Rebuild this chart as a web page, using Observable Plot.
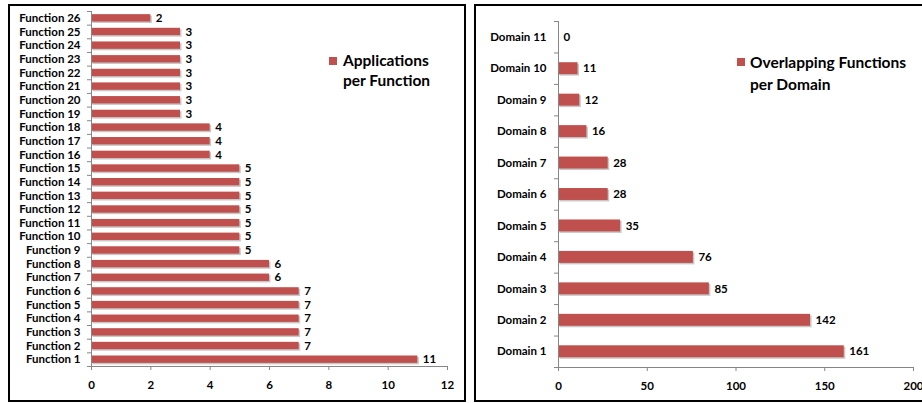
<!DOCTYPE html>
<html>
<head>
<meta charset="utf-8">
<script src="https://cdn.jsdelivr.net/npm/d3@7"></script>
<script src="https://cdn.jsdelivr.net/npm/@observablehq/plot@0.6"></script>
<style>
  html, body { margin: 0; padding: 0; background: #fff; }
  body { width: 922px; height: 403px; position: relative; overflow: hidden; font-family: Lato, "Open Sans", sans-serif; }
  .panel { position: absolute; border: 2px solid #000; box-sizing: border-box; }
  .chart { position: absolute; top: 0; }
  .legend { position: absolute; font-weight: bold; font-size: 15.5px; line-height: 20px; color: #000; }
  .legend .sw { position: absolute; width: 8px; height: 8px; background: #C0504D; }
</style>
</head>
<body>
<div class="panel" style="left:8px; top:4px; width:458px; height:398px;"></div>
<div class="panel" style="left:474px; top:4px; width:470px; height:398px;"></div>
<div id="left" class="chart" style="left:0px;"></div>
<div id="right" class="chart" style="left:470px;"></div>
<div class="legend" style="left:343px; top:50px;"><span class="sw" style="left:-14px; top:7px;"></span>Applications<br>per Function</div>
<div class="legend" style="left:750px; top:51px; line-height:22px;"><span class="sw" style="left:-13px; top:7px;"></span>Overlapping Functions<br>per Domain</div>
<script>
const functionNames = ["Function 1","Function 2","Function 3","Function 4","Function 5","Function 6","Function 7","Function 8","Function 9","Function 10","Function 11","Function 12","Function 13","Function 14","Function 15","Function 16","Function 17","Function 18","Function 19","Function 20","Function 21","Function 22","Function 23","Function 24","Function 25","Function 26"];
const functionValues = [11,7,7,7,7,7,6,6,5,5,5,5,5,5,5,4,4,4,3,3,3,3,3,3,3,2];
const functionTicks = [0,2,4,6,8,10,12];

const domainNames = ["Domain 1","Domain 2","Domain 3","Domain 4","Domain 5","Domain 6","Domain 7","Domain 8","Domain 9","Domain 10","Domain 11"];
const domainValues = [161,142,85,76,35,28,28,16,12,11,0];
const domainTicks = [0,50,100,150,200];

const BAR = "#C0504D";
const AXIS = "#868686";

function makeChart({names, values, ticks, xmax, width, height, mt, mb, ml, mr, half, labelPad}) {
  const n = names.length;
  const data = names.map((name, k) => ({name, value: values[k], i: k + 1}));
  const bounds = d3.range(n + 1).map(k => k + 0.5);
  return Plot.plot({
    width, height,
    marginTop: mt, marginBottom: mb, marginLeft: ml, marginRight: mr,
    style: {fontFamily: "Lato, 'Open Sans', sans-serif", fontWeight: "bold", fontSize: "11.5px", color: "#000", background: "transparent", overflow: "visible"},
    x: {domain: [0, xmax], label: null},
    y: {domain: [0.5, n + 0.5], label: null},
    marks: [
      Plot.rect(data, {x1: 0, x2: "value", y1: d => d.i - half, y2: d => d.i + half, fill: "#c8c8c8", dx: 1.5, dy: 1.5}),
      Plot.rect(data, {x1: 0, x2: "value", y1: d => d.i - half, y2: d => d.i + half, fill: BAR}),
      Plot.ruleX([0], {stroke: AXIS}),
      Plot.ruleY([0.5], {stroke: AXIS}),
      Plot.axisY({ticks: bounds, tickSize: 4, tickFormat: () => "", stroke: AXIS, label: null}),
      Plot.axisY({ticks: data.map(d => d.i), tickSize: 0, tickPadding: labelPad, tickFormat: i => names[i - 1], fill: "#000", label: null}),
      Plot.axisX({ticks, tickSize: 4, tickPadding: 10, tickFormat: d3.format("d"), stroke: AXIS, fill: "#000", label: null}),
      Plot.text(data, {x: "value", y: "i", text: d => String(d.value), dx: 5, textAnchor: "start", fill: "#000", fontWeight: "bold", fontSize: 11.5})
    ]
  });
}

document.getElementById("left").append(makeChart({
  names: functionNames, values: functionValues, ticks: functionTicks, xmax: 12,
  width: 470, height: 403, mt: 11, mb: 37, ml: 91, mr: 23, half: 0.27, labelPad: 11
}));
document.getElementById("right").append(makeChart({
  names: domainNames, values: domainValues, ticks: domainTicks, xmax: 200,
  width: 452, height: 403, mt: 21, mb: 36, ml: 88, mr: 9, half: 0.19, labelPad: 12
}));
</script>
</body>
</html>
